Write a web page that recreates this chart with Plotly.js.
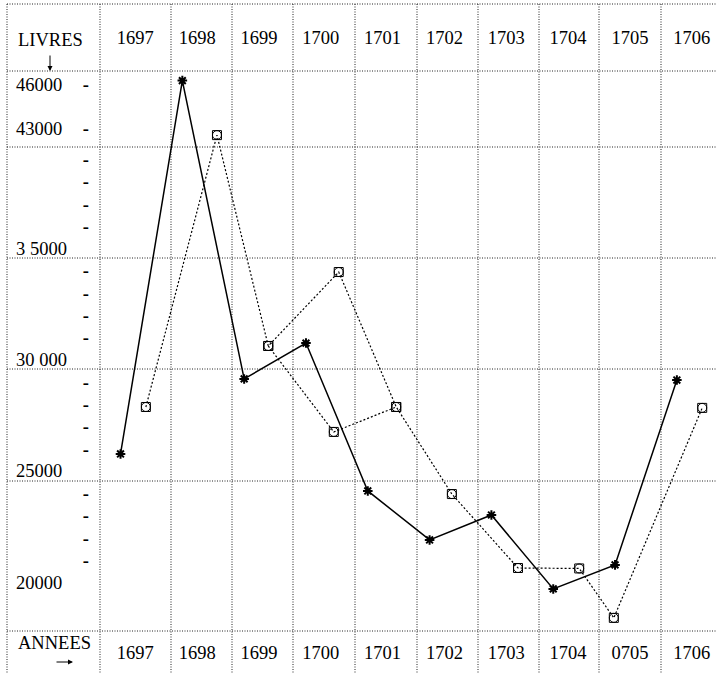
<!DOCTYPE html>
<html><head><meta charset="utf-8">
<script src="https://cdn.plot.ly/plotly-3.0.1.min.js"></script>
<style>html,body{margin:0;padding:0;background:#fff;} #chart{width:716px;height:673px;}</style>
</head><body><div id="chart"></div>
<script>
// ---- data ----
const years = [1697, 1698, 1699, 1700, 1701, 1702, 1703, 1704, 1705, 1706];
const headerLabels = ['1697', '1698', '1699', '1700', '1701', '1702', '1703', '1704', '1705', '1706'];
const footerLabels = ['1697', '1698', '1699', '1700', '1701', '1702', '1703', '1704', '0705', '1706'];
const starValues = [25780, 46300, 29150, 30760, 24120, 21920, 23040, 19720, 20800, 29100];
const circleYears = [1697.41, 1698.56, 1699.39, 1700.53, 1701.46, 1702.36, 1703.43, 1704.42, 1704.98, 1706.41];
const circleValues = [27890, 42200, 30630, 33950, 27890, 23980, 20660, 20640, 18420, 27850];
const circleAltYear = 1700.45;
const circleAltValue = 26770;
const yLabelValues = [46000, 43000, 35000, 30000, 25000, 20000];
const yLabelTexts = ['46000', '43000', '3 5000', '30 000', '25000', '20000'];
const dashValues = [46000, 43000, 39000, 38000, 37000, 36000, 34000, 33000, 32000, 31000,
                    29000, 28000, 27000, 26000, 24000, 23000, 22000, 21000];

// ---- the original axis is compressed above 39000 livres ----
function toAxis(v) {
  if (v <= 39000) return v;
  if (v <= 43000) return 39000 + (v - 39000) * 1373 / 4000;
  return 40373 + (v - 43000) * 1975 / 3000;
}

// ---- layout geometry ----
const W = 716, H = 673, ML = 100, MR = 0, MT = 71, MB = 42;
const PW = W - ML - MR, PH = H - MT - MB;
const px2x = p => (p - ML) / PW;
const py2y = p => (H - MB - p) / PH;
const colEdgesPx = [7, 100, 171, 232, 293, 355, 417, 478, 539, 599, 661];
const rowEdgesPx = [4, 71, 147, 258, 369, 481, 631];
const FONT = 'Liberation Serif, Times New Roman, serif';
const FS = 18.5;
const xRange = [1696.668, 1706.633];
const labelShift = 0.24;

const shapes = [];
colEdgesPx.forEach(p => shapes.push({type: 'line', xref: 'paper', yref: 'paper',
  x0: px2x(p), x1: px2x(p), y0: py2y(4), y1: py2y(673),
  line: {color: '#222', width: 1, dash: '1px,1.5px'}, layer: 'below'}));
rowEdgesPx.forEach(p => shapes.push({type: 'line', xref: 'paper', yref: 'paper',
  x0: px2x(7), x1: px2x(716), y0: py2y(p), y1: py2y(p),
  line: {color: '#222', width: 1, dash: '1px,1.5px'}, layer: 'below'}));

const annotations = yLabelValues.map((v, i) => ({
  xref: 'paper', yref: 'y', x: px2x(14), y: toAxis(v), xanchor: 'left', yanchor: 'middle',
  text: yLabelTexts[i], showarrow: false, font: {family: FONT, size: FS, color: '#000'}
}));
annotations.push({xref: 'paper', yref: 'paper', x: px2x(50), y: py2y(40), xanchor: 'center', yanchor: 'middle',
  text: 'LIVRES', showarrow: false, font: {family: FONT, size: FS, color: '#000'}});
annotations.push({xref: 'paper', yref: 'paper', x: px2x(50), y: py2y(71), ax: 0, ay: -17,
  text: '', showarrow: true, arrowhead: 2, arrowsize: 1, arrowwidth: 1, arrowcolor: '#000'});
annotations.push({xref: 'paper', yref: 'paper', x: px2x(54), y: py2y(643), xanchor: 'center', yanchor: 'middle',
  text: 'ANNEES', showarrow: false, font: {family: FONT, size: FS, color: '#000'}});
annotations.push({xref: 'paper', yref: 'paper', x: px2x(73), y: py2y(662), ax: -18, ay: 0,
  text: '', showarrow: true, arrowhead: 2, arrowsize: 1, arrowwidth: 1, arrowcolor: '#000'});

const altX = [circleYears[2], circleAltYear, circleYears[4]];
const altY = [circleValues[2], circleAltValue, circleValues[4]].map(toAxis);
const circY = circleValues.map(toAxis);

const traces = [
  {x: years, y: starValues.map(toAxis), mode: 'lines+markers', type: 'scatter', cliponaxis: false,
   line: {color: '#000', width: 1.5},
   marker: {symbol: 'asterisk-open', size: 8, color: '#000', line: {color: '#000', width: 2}}},
  {x: circleYears, y: circY, mode: 'lines+markers', type: 'scatter', cliponaxis: false,
   line: {color: '#000', width: 1.2, dash: '2px,2px'},
   marker: {symbol: 'square-open', size: 9, color: '#000', line: {color: '#000', width: 1}}},
  {x: altX, y: altY, mode: 'lines+markers', type: 'scatter', cliponaxis: false,
   line: {color: '#000', width: 1.2, dash: '2px,2px'},
   marker: {symbol: 'square-open', size: 9, color: '#000', line: {color: '#000', width: 1}}},
  {x: circleYears.concat([circleAltYear]), y: circY.concat([toAxis(circleAltValue)]), mode: 'markers', type: 'scatter', cliponaxis: false,
   marker: {symbol: 'circle-open', size: 9, color: '#000', line: {color: '#000', width: 1}}},
  // carries the top (header) year axis
  {x: years, y: starValues.map(toAxis), xaxis: 'x2', mode: 'markers', type: 'scatter',
   marker: {opacity: 0, size: 1}, hoverinfo: 'skip'}
];

const layout = {
  width: W, height: H, showlegend: false,
  paper_bgcolor: '#fff', plot_bgcolor: '#fff',
  margin: {l: ML, r: MR, t: MT, b: MB, pad: 0},
  font: {family: FONT, size: FS, color: '#000'},
  xaxis: {range: xRange, showgrid: false, zeroline: false, showline: false, ticks: '',
    tickvals: years.map(y => y + labelShift), ticktext: footerLabels, ticklabelstandoff: 8,
    tickfont: {family: FONT, size: FS, color: '#000'}},
  xaxis2: {range: xRange, overlaying: 'x', side: 'top', anchor: 'y', showgrid: false, zeroline: false,
    showline: false, ticks: '', tickvals: years.map(y => y + labelShift), ticktext: headerLabels,
    ticklabelstandoff: 22, tickfont: {family: FONT, size: FS, color: '#000'}},
  yaxis: {range: [17831, 42977], showgrid: false, zeroline: false, showline: false, ticks: '',
    tickvals: dashValues.map(toAxis), ticktext: dashValues.map(() => '-'), ticklabelstandoff: 10,
    tickfont: {family: FONT, size: FS, color: '#000', weight: 'bold'}},
  shapes: shapes, annotations: annotations
};

Plotly.newPlot('chart', traces, layout, {displayModeBar: false, staticPlot: true});
</script>
</body></html>
